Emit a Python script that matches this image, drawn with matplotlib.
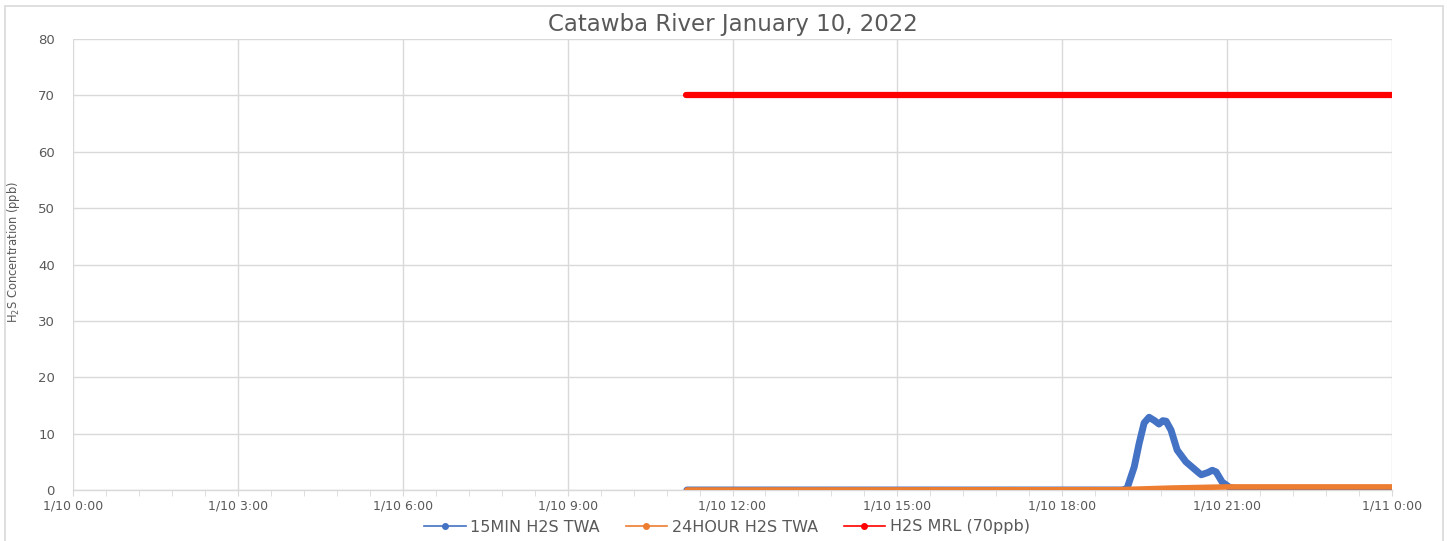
import matplotlib
matplotlib.use("Agg")
import matplotlib.pyplot as plt
from matplotlib.patches import Rectangle
from matplotlib.ticker import MultipleLocator

# ---- data (hours since 1/10 0:00) ----
blue_t = [11.17, 19.10, 19.18, 19.31, 19.40, 19.49, 19.58, 19.68, 19.76, 19.83, 19.89,
          19.98, 20.09, 20.25, 20.49, 20.53, 20.65, 20.73, 20.80, 20.91, 21.04, 21.20, 24.00]
blue_v = [0.0, 0.0, 0.3, 4.1, 8.3, 11.9, 12.9, 12.3, 11.7, 12.3, 12.2,
          10.6, 7.1, 5.0, 3.0, 2.7, 3.1, 3.5, 3.2, 1.4, 0.5, 0.1, 0.1]

orange_t = [11.17, 19.00, 19.50, 20.00, 20.50, 21.00, 24.00]
orange_v = [0.0, 0.05, 0.2, 0.35, 0.45, 0.55, 0.55]

red_t = [11.16, 24.00]
red_v = [70, 70]

xtick_pos = [0, 3, 6, 9, 12, 15, 18, 21, 24]
xtick_labels = ["1/10 0:00", "1/10 3:00", "1/10 6:00", "1/10 9:00", "1/10 12:00",
                "1/10 15:00", "1/10 18:00", "1/10 21:00", "1/11 0:00"]

series_names = ["15MIN H2S TWA", "24HOUR H2S TWA", "H2S MRL (70ppb)"]
colors = ["#4472C4", "#ED7D31", "#FF0000"]

W, H = 1447, 541
fig = plt.figure(figsize=(W / 100, H / 100), dpi=100)
fig.patch.set_facecolor("white")
fig.patches.append(Rectangle((5 / W, -0.05), (1443 - 5) / W, 1.05 - 6 / H,
                             transform=fig.transFigure, fill=False,
                             edgecolor="#D9D9D9", linewidth=1.2))

ax = fig.add_axes([73 / W, 1 - 490 / H, (1392 - 73) / W, (490 - 39) / H])
tc = "#595959"

ax.plot(blue_t, blue_v, color=colors[0], lw=5, solid_capstyle="round", zorder=3)
ax.plot(orange_t, orange_v, color=colors[1], lw=4, solid_capstyle="round", zorder=4)
ax.plot(red_t, red_v, color=colors[2], lw=4.5, solid_capstyle="round", zorder=3)

ax.set_xlim(0, 24)
ax.set_ylim(0, 80)
ax.set_xticks(xtick_pos)
ax.set_xticklabels(xtick_labels)
ax.xaxis.set_minor_locator(MultipleLocator(0.6))
ax.yaxis.set_major_locator(MultipleLocator(10))

ax.grid(True, which="major", color="#D9D9D9", lw=1.0)
ax.set_axisbelow(True)
for s in ["top", "right", "left"]:
    ax.spines[s].set_visible(False)
ax.spines["bottom"].set_color("#D9D9D9")
ax.spines["bottom"].set_linewidth(1.0)

ax.tick_params(axis="x", which="major", length=4, color="#D9D9D9", labelsize=9,
               labelcolor=tc, pad=3)
ax.tick_params(axis="x", which="minor", length=4, color="#D9D9D9")
ax.tick_params(axis="y", length=0, labelsize=9.5, labelcolor=tc, pad=13)

ax.set_title("Catawba River January 10, 2022", fontsize=16.5, color=tc, pad=6)
ax.set_ylabel("H$_2$S Concentration (ppb)", fontsize=8.3, color=tc,
              family=["Liberation Sans Narrow", "DejaVu Sans"])
ax.yaxis.set_label_coords((22 - 73) / (1392 - 73), (490 - 252) / (490 - 39))

handles = [plt.Line2D([], [], color=c, lw=1.2, marker="o", markersize=4) for c in colors]
fig.legend(handles, series_names, loc="center", bbox_to_anchor=(727 / W, 1 - 527 / H),
           ncol=3, frameon=False, fontsize=11.5, handlelength=2.6, columnspacing=1.6,
           labelcolor=tc, handletextpad=0.3)

fig.savefig("out.png", dpi=100)
